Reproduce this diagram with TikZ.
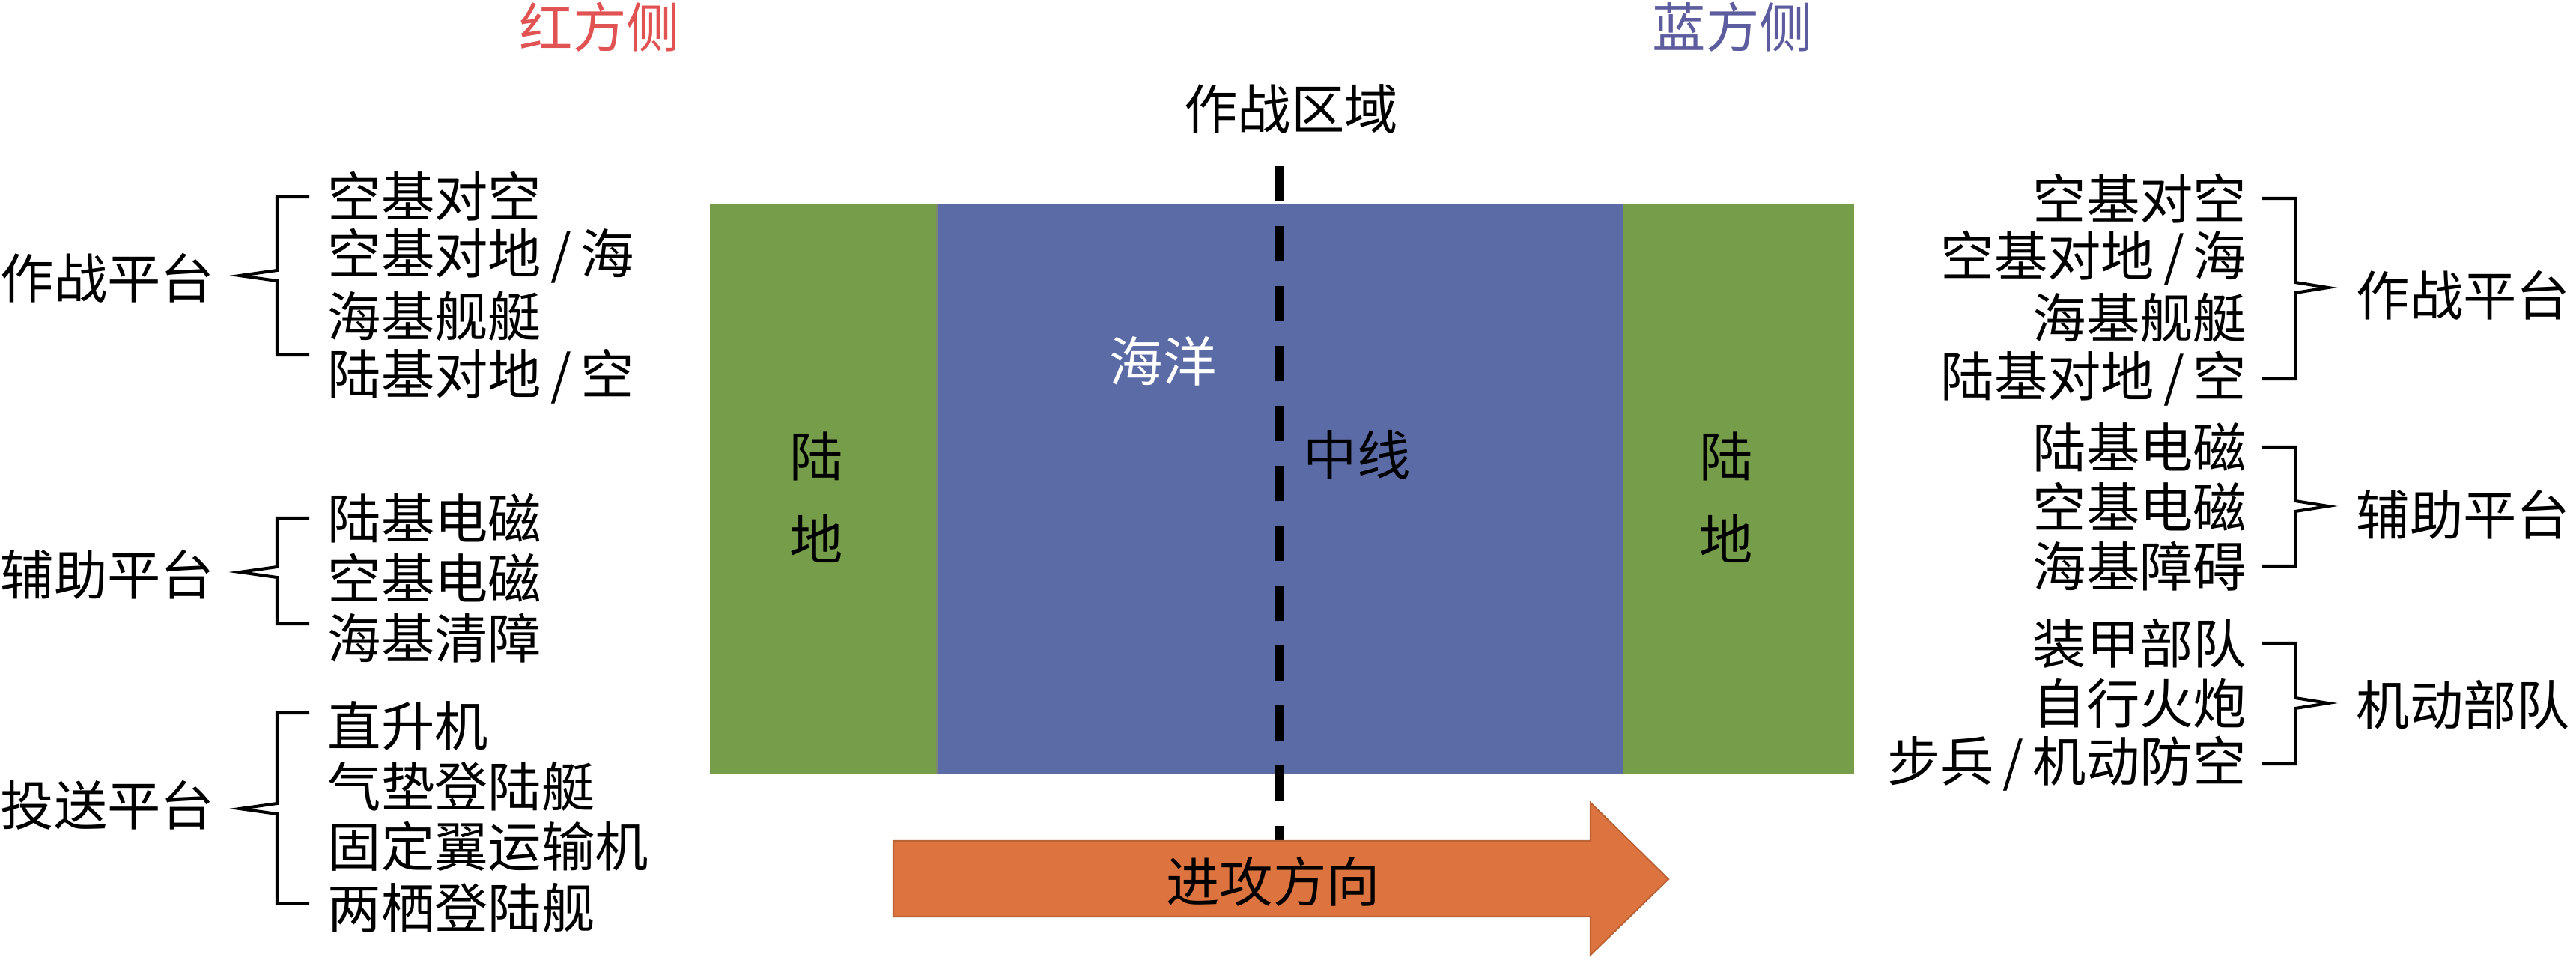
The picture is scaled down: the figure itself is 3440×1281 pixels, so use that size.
\documentclass[tikz,border=0pt]{standalone}
\usepackage{fontspec}
\setmainfont{Noto Sans CJK SC}

\definecolor{landgreen}{RGB}{118,157,74}
\definecolor{seablue}{RGB}{91,107,166}
\definecolor{atkorange}{RGB}{221,116,63}
\definecolor{redside}{RGB}{225,82,82}
\definecolor{blueside}{RGB}{92,92,158}

\tikzset{
  txt/.style={inner sep=0pt, font=\fontsize{20.3}{24}\selectfont},
  itm/.style={txt, anchor=west},
  ritm/.style={txt, anchor=east},
  brk/.style={line width=1.15pt},
}
\newcommand{\slh}{\,/\,}
\newcommand{\lbrk}[3]{\draw[brk] (413,#1) -- (370,#1) -- (370,{#2-7}) -- (320,#2) -- (370,{#2+7}) -- (370,#3) -- (413,#3);}
\newcommand{\rbrk}[3]{\draw[brk] (3021,#1) -- (3065,#1) -- (3065,{#2-7}) -- (3109,#2) -- (3065,{#2+7}) -- (3065,#3) -- (3021,#3);}

\begin{document}
\begin{tikzpicture}[x=0.01cm, y=-0.01cm]
    \useasboundingbox (0,0) rectangle (3440,1281);
    \node[txt, text=redside] (red) at (801,36) {红方侧};
    \node[txt, text=blueside] (blue) at (2314,36) {蓝方侧};
    \node[txt] (zone) at (1724,145) {作战区域};

    \fill[landgreen] (948,273) rectangle (1251,1033);
    \fill[seablue] (1251,273) rectangle (2167,1033);
    \fill[landgreen] (2167,273) rectangle (2476,1033);
    \draw[line width=0.8pt, gray!70!landgreen] (1251,273) -- (1251,1033);
    \node[txt] (lland1) at (1090,609) {陆};
    \node[txt] (lland2) at (1090,720) {地};
    \node[txt] (rland1) at (2305,609) {陆};
    \node[txt] (rland2) at (2305,720) {地};
    \node[txt, text=white] (sea) at (1553,482) {海洋};
    \node[txt] (mid) at (1812,607) {中线};

    \coordinate (midtop) at (1708,222);
    \coordinate (midbot) at (1708,1128);
    \draw[line width=3.4pt, dash pattern=on 0.47cm off 0.33cm] (midtop) -- (midbot);

    \filldraw[fill=atkorange, draw=atkorange!85!black, line width=0.6pt]
      (1193,1123) -- (2124,1123) -- (2124,1072) -- (2228,1174)
      -- (2124,1275) -- (2124,1224) -- (1193,1224) -- cycle;
    \node[txt] (atk) at (1700,1177) {进攻方向};

    \node[txt, anchor=west] (lg1) at (0,371) {作战平台};
    \node[itm] (la1) at (437,262) {空基对空};
    \node[itm] (la2) at (437,342) {空基对地\slh 海};
    \node[itm] (la3) at (437,422) {海基舰艇};
    \node[itm] (la4) at (437,503) {陆基对地\slh 空};
    \lbrk{263}{368}{474}

    \node[txt, anchor=west] (lg2) at (0,767) {辅助平台};
    \node[itm] (lb1) at (437,692) {陆基电磁};
    \node[itm] (lb2) at (437,772) {空基电磁};
    \node[itm] (lb3) at (437,852) {海基清障};
    \lbrk{692}{764}{833}

    \node[txt, anchor=west] (lg3) at (0,1075) {投送平台};
    \node[itm] (lc1) at (437,969) {直升机};
    \node[itm] (lc2) at (437,1050) {气垫登陆艇};
    \node[itm] (lc3) at (437,1130) {固定翼运输机};
    \node[itm] (lc4) at (437,1212) {两栖登陆舰};
    \lbrk{952}{1080}{1206}

    \node[txt, anchor=west] (rg1) at (3146,394) {作战平台};
    \node[ritm] (ra1) at (3001,265) {空基对空};
    \node[ritm] (ra2) at (3001,345) {空基对地\slh 海};
    \node[ritm] (ra3) at (3001,424) {海基舰艇};
    \node[ritm] (ra4) at (3001,506) {陆基对地\slh 空};
    \rbrk{265}{384}{506}

    \node[txt, anchor=west] (rg2) at (3146,687) {辅助平台};
    \node[ritm] (rb1) at (3001,597) {陆基电磁};
    \node[ritm] (rb2) at (3001,677) {空基电磁};
    \node[ritm] (rb3) at (3001,756) {海基障碍};
    \rbrk{597}{676}{756}

    \node[txt, anchor=west] (rg3) at (3146,941) {机动部队};
    \node[ritm] (rc1) at (3001,859) {装甲部队};
    \node[ritm] (rc2) at (3001,939) {自行火炮};
    \node[ritm] (rc3) at (3001,1020) {步兵\slh 机动防空};
    \rbrk{859}{939}{1020}
\end{tikzpicture}
\end{document}
